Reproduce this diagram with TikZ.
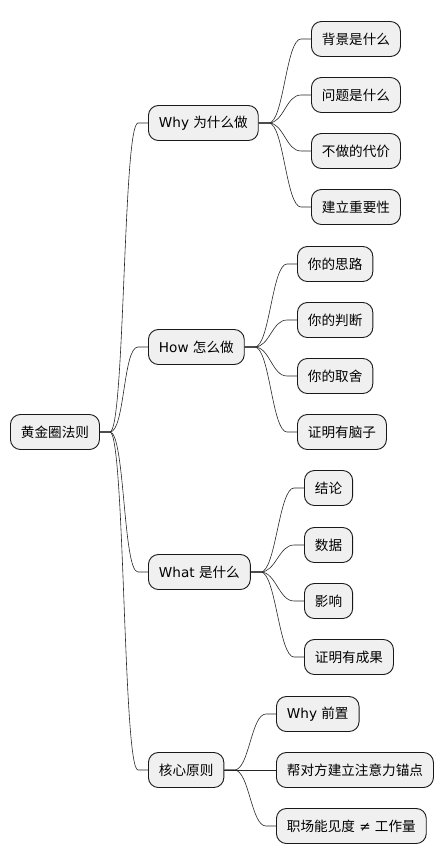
\documentclass[tikz,border=0pt]{standalone}
\usepackage{fontspec}
\setmainfont{Noto Sans CJK SC}
\newfontfamily\lat{DejaVu Sans}
\usetikzlibrary{positioning}

\begin{document}
\begin{tikzpicture}[x=1pt, y=-1pt,
  idea/.style={draw=black!90, line width=0.9pt, fill=black!6, rounded corners=10pt,
    minimum height=35pt, inner xsep=10.5pt, anchor=west,
    font=\fontsize{13.6}{16}\selectfont},
  link/.style={line width=0.6pt, black!85}]
\useasboundingbox (0,0) rectangle (446,865);

\node[idea] (root) at (10,432) {黄金圈法则};

\node[idea] (why) at (148,123) {{\lat Why }为什么做};
\node[idea] (how) at (148,347) {{\lat How }怎么做};
\node[idea] (what) at (148,572) {{\lat What }是什么};
\node[idea] (core) at (148,770) {核心原则};

\node[idea] (why1) at (311,39) {背景是什么};
\node[idea] (why2) at (311,95) {问题是什么};
\node[idea] (why3) at (311,151) {不做的代价};
\node[idea] (why4) at (311,207) {建立重要性};

\node[idea] (how1) at (297,264) {你的思路};
\node[idea] (how2) at (297,320) {你的判断};
\node[idea] (how3) at (297,376) {你的取舍};
\node[idea] (how4) at (297,432) {证明有脑子};

\node[idea] (what1) at (304,488) {结论};
\node[idea] (what2) at (304,545) {数据};
\node[idea] (what3) at (304,601) {影响};
\node[idea] (what4) at (304,657) {证明有成果};

\node[idea] (core1) at (276,714) {{\lat Why }前置};
\node[idea] (core2) at (276,770) {帮对方建立注意力锚点};
\node[idea] (core3) at (276,826) {职场能见度{\lat\ ≠ }工作量};

% branches
\foreach \p/\c in {root/why, root/how, root/what, root/core,
    why/why1, why/why2, why/why3, why/why4,
    how/how1, how/how2, how/how3, how/how4,
    what/what1, what/what2, what/what3, what/what4,
    core/core1, core/core2, core/core3}
  \draw[link] (\p.east) -- ++(10,0) .. controls +(15,0) and ([xshift=-25pt]\c.west)
    .. ([xshift=-10pt]\c.west) -- (\c.west);
\end{tikzpicture}
\end{document}
